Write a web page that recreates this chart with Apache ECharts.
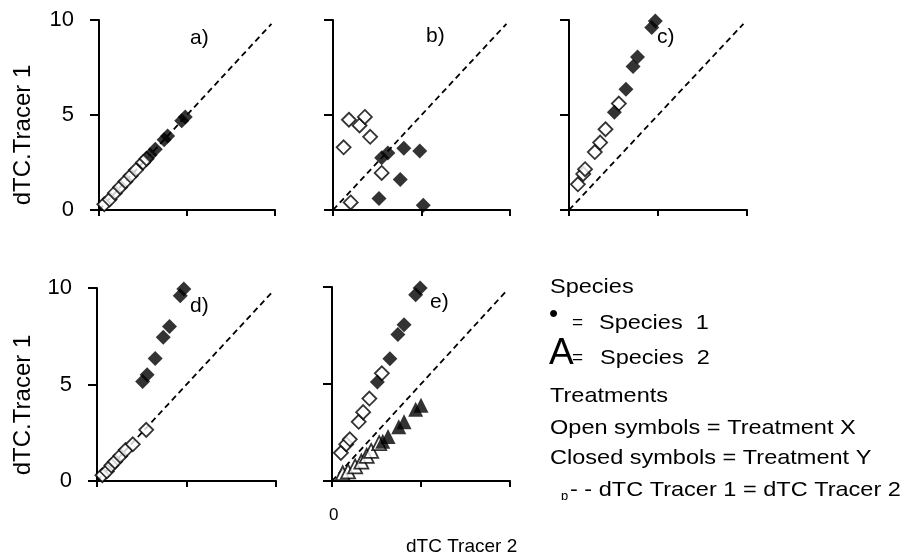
<!DOCTYPE html>
<html>
<head>
<meta charset="utf-8">
<script src="https://cdn.jsdelivr.net/npm/echarts@6/dist/echarts.min.js"></script>
<style>
html, body { margin: 0; padding: 0; background: #fff; }
#main { width: 907px; height: 559px; }
</style>
</head>
<body>
<div id="main"></div>
<script>
// values: [dTC Tracer 2, dTC Tracer 1]
const aOpen = [[0.3,0.3],[0.6,0.55],[0.9,0.9],[1.2,1.2],[1.5,1.5],[1.8,1.8],[2.1,2.1],[2.5,2.5],[2.7,2.7]];
const aClosed = [[2.9,2.9],[3.2,3.2],[3.7,3.7],[3.9,3.9],[4.7,4.7],[4.9,4.9]];

const bOpen = [[0.6,3.3],[0.9,4.75],[1.5,4.45],[1.8,4.9],[2.1,3.85],[2.75,1.95],[1.0,0.4]];
const bClosed = [[2.75,2.75],[3.1,3.0],[4.0,3.25],[4.9,3.1],[3.8,1.6],[2.6,0.6],[5.1,0.25]];

const cOpen = [[0.5,1.35],[0.8,1.9],[0.9,2.15],[1.45,3.05],[1.75,3.55],[2.05,4.25],[2.8,5.6]];
const cClosed = [[2.55,5.15],[3.2,6.35],[3.6,7.55],[3.85,8.05],[4.65,9.6],[4.85,9.95]];

const dOpen = [[0.3,0.3],[0.55,0.5],[0.8,0.8],[1.0,1.0],[1.3,1.3],[1.6,1.6],[2.0,1.9],[2.75,2.65]];
const dClosed = [[2.55,5.15],[2.8,5.5],[3.25,6.35],[3.7,7.45],[4.05,8.0],[4.65,9.6],[4.85,9.95]];

const eOpen = [[0.5,1.45],[0.8,1.9],[1.0,2.15],[1.5,3.05],[1.75,3.55],[2.1,4.25],[2.8,5.55]];
const eClosed = [[2.55,5.1],[3.25,6.3],[3.7,7.55],[4.05,8.05],[4.7,9.6],[4.95,9.95]];
const eOpenTri = [[0.6,0.4],[0.9,0.5],[1.3,0.75],[1.65,1.0],[1.95,1.3],[2.2,1.55],[2.65,1.95]];
const eClosedTri = [[2.85,2.05],[3.15,2.3],[3.75,2.8],[4.05,3.05],[4.7,3.7],[5.0,3.9]];

const oneToOne = [[0,0],[9.8,9.8]];
const yTicks = ['0','5','10'];
const panelNames = ['a)', 'b)', 'c)', 'd)', 'e)'];

const FONT = 'Liberation Sans, Arial, sans-serif';

var myChart = echarts.init(document.getElementById('main'));

var grids = [
  {left: 99, top: 20, width: 176, height: 190},
  {left: 333, top: 20, width: 177, height: 190},
  {left: 569, top: 20, width: 178, height: 190},
  {left: 97, top: 288, width: 179, height: 193},
  {left: 332, top: 287, width: 178, height: 194}
];

var xAxes = [], yAxes = [], series = [];
grids.forEach(function(g, i) {
  xAxes.push({
    gridIndex: i, type: 'value', min: 0, max: 10, interval: 5,
    axisLine: {lineStyle: {color: '#000', width: 2}},
    axisTick: {length: 6, lineStyle: {color: '#000', width: 2}},
    axisLabel: {show: false},
    splitLine: {show: false}
  });
  yAxes.push({
    gridIndex: i, type: 'value', min: 0, max: 10, interval: 5,
    axisLine: {show: true, lineStyle: {color: '#000', width: 2}},
    axisTick: {show: true, length: 9, lineStyle: {color: '#000', width: 2}},
    axisLabel: {
      show: i === 0 || i === 3, margin: 25, color: '#000',
      fontFamily: FONT, fontSize: 22,
      formatter: function(v) { return yTicks[v / 5]; }
    },
    splitLine: {show: false}
  });
  series.push({
    type: 'line', xAxisIndex: i, yAxisIndex: i, data: oneToOne,
    showSymbol: false, silent: true, z: 1,
    lineStyle: {color: '#000', width: 1.8, type: [6, 4]}
  });
});

function pts(i, data, symbol, filled) {
  series.push({
    type: 'scatter', xAxisIndex: i, yAxisIndex: i, data: data,
    symbol: symbol, symbolSize: filled ? 15 : 14, z: filled ? 3 : 2,
    itemStyle: filled ? {color: '#000'} : {color: '#fff', borderColor: '#000', borderWidth: 1.8}
  });
}
pts(0, aOpen, 'diamond', false); pts(0, aClosed, 'diamond', true);
pts(1, bOpen, 'diamond', false); pts(1, bClosed, 'diamond', true);
pts(2, cOpen, 'diamond', false); pts(2, cClosed, 'diamond', true);
pts(3, dOpen, 'diamond', false); pts(3, dClosed, 'diamond', true);
pts(4, eOpen, 'diamond', false); pts(4, eClosed, 'diamond', true);
pts(4, eOpenTri, 'triangle', false); pts(4, eClosedTri, 'triangle', true);

function txt(x, y, s, size, extra) {
  return Object.assign({
    type: 'text', x: x, y: y,
    style: {text: s, fill: '#000', font: size + 'px ' + FONT, textVerticalAlign: 'middle'}
  }, extra || {});
}
function vtxt(x, y, s, size) {
  return {
    type: 'text', x: x, y: y, rotation: Math.PI / 2,
    style: {text: s, fill: '#000', font: size + 'px ' + FONT, textAlign: 'center', textVerticalAlign: 'middle'}
  };
}

var labelPos = [[190, 38], [426, 36], [657, 37], [190, 306], [430, 302]];
var graphics = panelNames.map(function(n, i) {
  return txt(labelPos[i][0], labelPos[i][1], n, 21);
});

// axis titles
graphics.push(vtxt(23, 135, 'dTC.Tracer 1', 24));
graphics.push(vtxt(23, 405, 'dTC.Tracer 1', 24));
graphics.push(txt(406, 547, 'dTC Tracer 2', 19));
graphics.push(txt(329, 515, '0', 17));

// legend text (slightly stretched like the original)
var wide = {scaleX: 1.12};
graphics.push(txt(550, 287, 'Species', 21, wide));
graphics.push(txt(549, 315, '•', 26));
graphics.push(txt(572, 323, '=', 19));
graphics.push(txt(599, 323, 'Species  1', 21, wide));
graphics.push(txt(549, 354, 'A', 37));
graphics.push(txt(572, 358, '=', 19));
graphics.push(txt(600, 358, 'Species  2', 21, wide));
graphics.push(txt(550, 396, 'Treatments', 21, wide));
graphics.push(txt(550, 428, 'Open symbols = Treatment X', 21, wide));
graphics.push(txt(550, 458, 'Closed symbols = Treatment Y', 21, wide));
graphics.push(txt(561, 496, 'ɒ', 13));
graphics.push(txt(570, 490, '- - dTC Tracer 1 = dTC Tracer 2', 21, wide));

var option = {
  animation: false,
  backgroundColor: '#fff',
  grid: grids,
  xAxis: xAxes,
  yAxis: yAxes,
  series: series,
  graphic: graphics
};

myChart.setOption(option);
</script>
</body>
</html>
